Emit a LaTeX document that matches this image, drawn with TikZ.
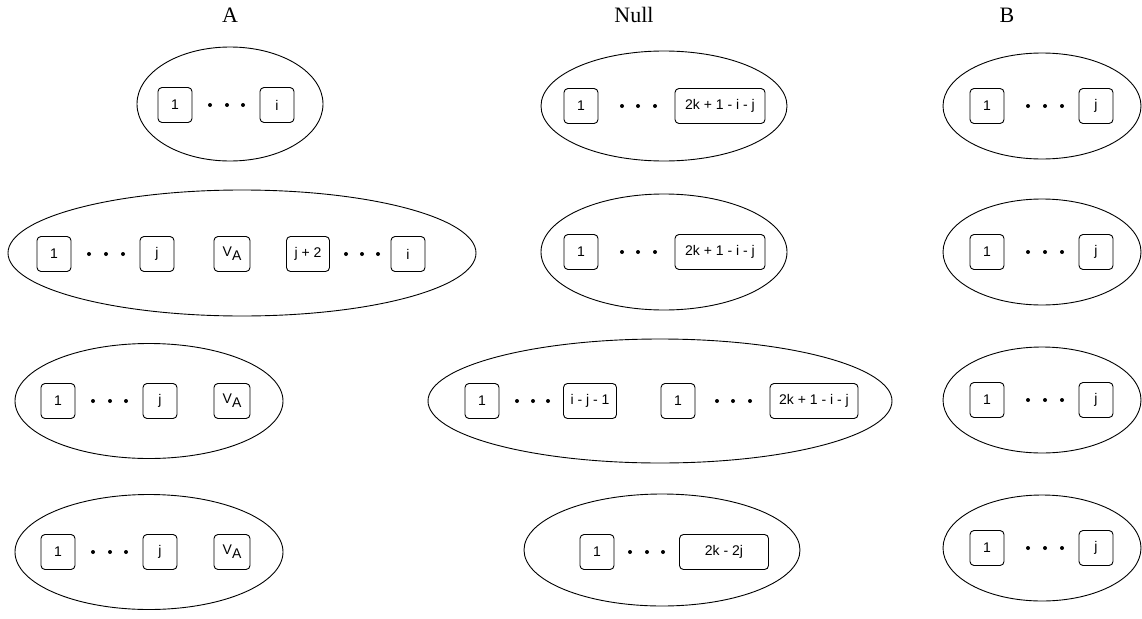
\documentclass[tikz,border=0pt]{standalone}
\usepackage{fontspec}
\setmainfont{Liberation Serif}
\newfontfamily\boxfont{Liberation Sans}
\usetikzlibrary{shapes.geometric}

\newcommand{\va}{V\raisebox{-0.3em}{A}}

\begin{document}
\begin{tikzpicture}[x=1pt,y=-1pt,
	heading/.style={font=\fontsize{22}{26}\selectfont},
	group/.style={draw,ellipse,line width=0.9pt,inner sep=0pt},
	vbox/.style={draw,rounded corners=4pt,line width=0.9pt,minimum width=34pt,minimum height=35pt,inner sep=0pt,font=\boxfont\fontsize{14}{16}\selectfont}]
	\useasboundingbox (0,0) rectangle (1142,618);

	% column titles
	\node[heading] (tA) at (230,15) {A};
	\node[heading] (tN) at (634,15) {Null};
	\node[heading] (tB) at (1007,15) {B};

	% column A
	\node[group,minimum width=186pt,minimum height=114pt] (A1) at (230,104) {};
	\node[vbox] (A1a) at (175,105) {1};
	\node[vbox] (A1b) at (277,105) {i};
	\foreach \x in {210,227,243} \fill (\x,105) circle (2pt);

	\node[group,minimum width=468pt,minimum height=126pt] (A2) at (242,253) {};
	\node[vbox] (A2a) at (54,254) {1};
	\node[vbox] (A2b) at (157,254) {j};
	\node[vbox,minimum width=36pt] (A2c) at (232,254) {\va};
	\node[vbox,minimum width=43pt] (A2d) at (308,254) {j + 2};
	\node[vbox] (A2e) at (408,254) {i};
	\foreach \x in {89,106,123,346,362,378} \fill (\x,254) circle (2pt);

	\foreach \n/\y in {3/401,4/552} {
		\node[group,minimum width=268pt,minimum height=115pt] (A\n) at (149,\y) {};
		\node[vbox] (A\n a) at (58,\y) {1};
		\node[vbox] (A\n b) at (160,\y) {j};
		\node[vbox,minimum width=36pt] (A\n c) at (232,\y) {\va};
		\foreach \x in {93,110,126} \fill (\x,\y) circle (2pt);
	}

	% column Null
	\foreach \n/\y/\h in {1/106/110,2/252/116} {
		\node[group,minimum width=246pt,minimum height=\h pt] (N\n) at (664,\y) {};
		\node[vbox] (N\n a) at (581,\y) {1};
		\node[vbox,minimum width=90pt] (N\n b) at (720,\y) {2k + 1 - i - j};
		\foreach \x in {622,638,655} \fill (\x,\y) circle (2pt);
	}

	\node[group,minimum width=464pt,minimum height=124pt] (N3) at (660,401) {};
	\node[vbox] (N3a) at (482,401) {1};
	\node[vbox,minimum width=53pt] (N3b) at (590,401) {i - j - 1};
	\node[vbox] (N3c) at (678,401) {1};
	\node[vbox,minimum width=88pt] (N3d) at (814,401) {2k + 1 - i - j};
	\foreach \x in {517,533,548,717,733,750} \fill (\x,401) circle (2pt);

	\node[group,minimum width=276pt,minimum height=112pt] (N4) at (662,550) {};
	\node[vbox] (N4a) at (597,552) {1};
	\node[vbox,minimum width=89pt] (N4b) at (724,552) {2k - 2j};
	\foreach \x in {630,647,663} \fill (\x,552) circle (2pt);

	% column B
	\foreach \n/\y in {1/106,2/252,3/400,4/548} {
		\node[group,minimum width=198pt,minimum height=106pt] (B\n) at (1042,\y) {};
		\node[vbox] (B\n a) at (987,\y) {1};
		\node[vbox] (B\n b) at (1096,\y) {j};
		\foreach \x in {1028,1045,1062} \fill (\x,\y) circle (2pt);
	}
\end{tikzpicture}
\end{document}
